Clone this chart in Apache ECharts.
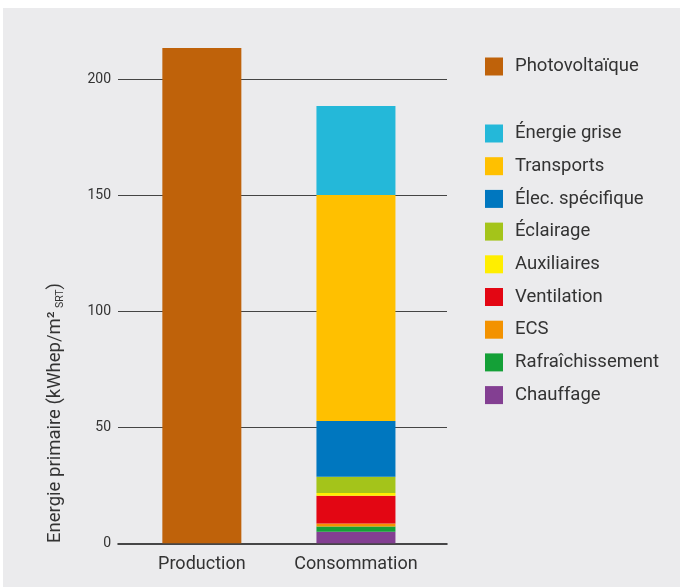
<!DOCTYPE html>
<html>
<head>
<meta charset="utf-8">
<script src="https://cdn.jsdelivr.net/npm/echarts@6/dist/echarts.min.js"></script>
<style>
html,body{margin:0;padding:0;background:#fff;}
#chart{width:680px;height:587px;}
</style>
</head>
<body>
<div id="chart"></div>
<script>
const categories = ['Production', 'Consommation'];
const yTicks = [0, 50, 100, 150, 200];
const production = [213.4, '-'];
const seriesNames = ['Chauffage', 'Rafraîchissement', 'ECS', 'Ventilation', 'Auxiliaires', 'Éclairage', 'Élec. spécifique', 'Transports', 'Énergie grise'];
const consumptionValues = [5.0, 2.2, 1.3, 12.0, 1.2, 7.0, 24.0, 97.3, 38.4];
const seriesColors = ['#833f92', '#14a037', '#f39200', '#e30613', '#ffee00', '#a4c41a', '#0077bf', '#ffc000', '#24b8d9'];
const productionName = 'Photovoltaïque';
const productionColor = '#bf620a';

const FONT = 'Roboto';
const chart = echarts.init(document.getElementById('chart'), null, {renderer: 'canvas'});

const series = [{
  name: productionName,
  type: 'bar',
  stack: 'all',
  xAxisIndex: 1, yAxisIndex: 1,
  barWidth: 79,
  itemStyle: {color: productionColor},
  data: production
}];
seriesNames.forEach((n, i) => {
  series.push({
    name: n,
    type: 'bar',
    stack: 'all',
    xAxisIndex: 1, yAxisIndex: 1,
    barWidth: 79,
    itemStyle: {color: seriesColors[i]},
    data: ['-', consumptionValues[i]]
  });
});

const legendOrder = seriesNames.slice().reverse();
const legendText = {fontSize: 18.5, color: '#333', fontFamily: FONT, padding: [0, 0, 0, 7]};

chart.setOption({
  animation: false,
  backgroundColor: '#ffffff',
  textStyle: {fontFamily: FONT},
  graphic: [
    {type: 'rect', z: -100, shape: {x: 3, y: 8, width: 680, height: 590}, style: {fill: '#ebebed'}},
    {type: 'text', x: 55, y: 413, rotation: Math.PI / 2,
     style: {
       text: '{a|Energie primaire (kWhep/m²} {s|SRT}{a|)}',
       align: 'center', verticalAlign: 'middle',
       rich: {
         a: {fontFamily: FONT, fontSize: 18.5, fill: '#333'},
         s: {fontFamily: FONT, fontSize: 10.5, fill: '#333', padding: [10, 0, 0, 0]}
       }
     }}
  ],
  legend: [
    {data: [productionName], left: 485, top: 57, padding: 0, orient: 'vertical', icon: 'rect',
     itemWidth: 18, itemHeight: 18, itemGap: 13.7, selectedMode: false, textStyle: legendText},
    {data: legendOrder, left: 485, top: 124, padding: 0, orient: 'vertical', icon: 'rect',
     itemWidth: 18, itemHeight: 18, itemGap: 13.7, selectedMode: false, textStyle: legendText}
  ],
  grid: [
    {left: 118, right: 233, top: 21, bottom: 43.7},
    {left: 124.8, right: 247, top: 21, bottom: 43.7}
  ],
  xAxis: [
    {type: 'category', gridIndex: 0, data: categories, axisTick: {show: false}, axisLabel: {show: false},
     axisLine: {show: true, lineStyle: {color: '#111', width: 1.5}}},
    {type: 'category', gridIndex: 1, data: categories, axisTick: {show: false},
     axisLine: {show: false},
     axisLabel: {interval: 0, fontSize: 18, color: '#333', fontFamily: FONT, margin: 12}}
  ],
  yAxis: [
    {type: 'value', gridIndex: 0, min: 0, max: 225, interval: 50,
     axisLine: {show: false}, axisTick: {show: false},
     axisLabel: {fontSize: 14, color: '#333', fontFamily: FONT, margin: 7, showMaxLabel: false,
       formatter: v => (yTicks.indexOf(v) >= 0 ? String(v) : '')},
     splitLine: {show: true, showMaxLine: false, showMinLine: false, lineStyle: {color: '#444', width: 1}}},
    {type: 'value', gridIndex: 1, min: 0, max: 225, interval: 50, show: false,
     splitLine: {show: false}}
  ],
  series: series
});
</script>
</body>
</html>
